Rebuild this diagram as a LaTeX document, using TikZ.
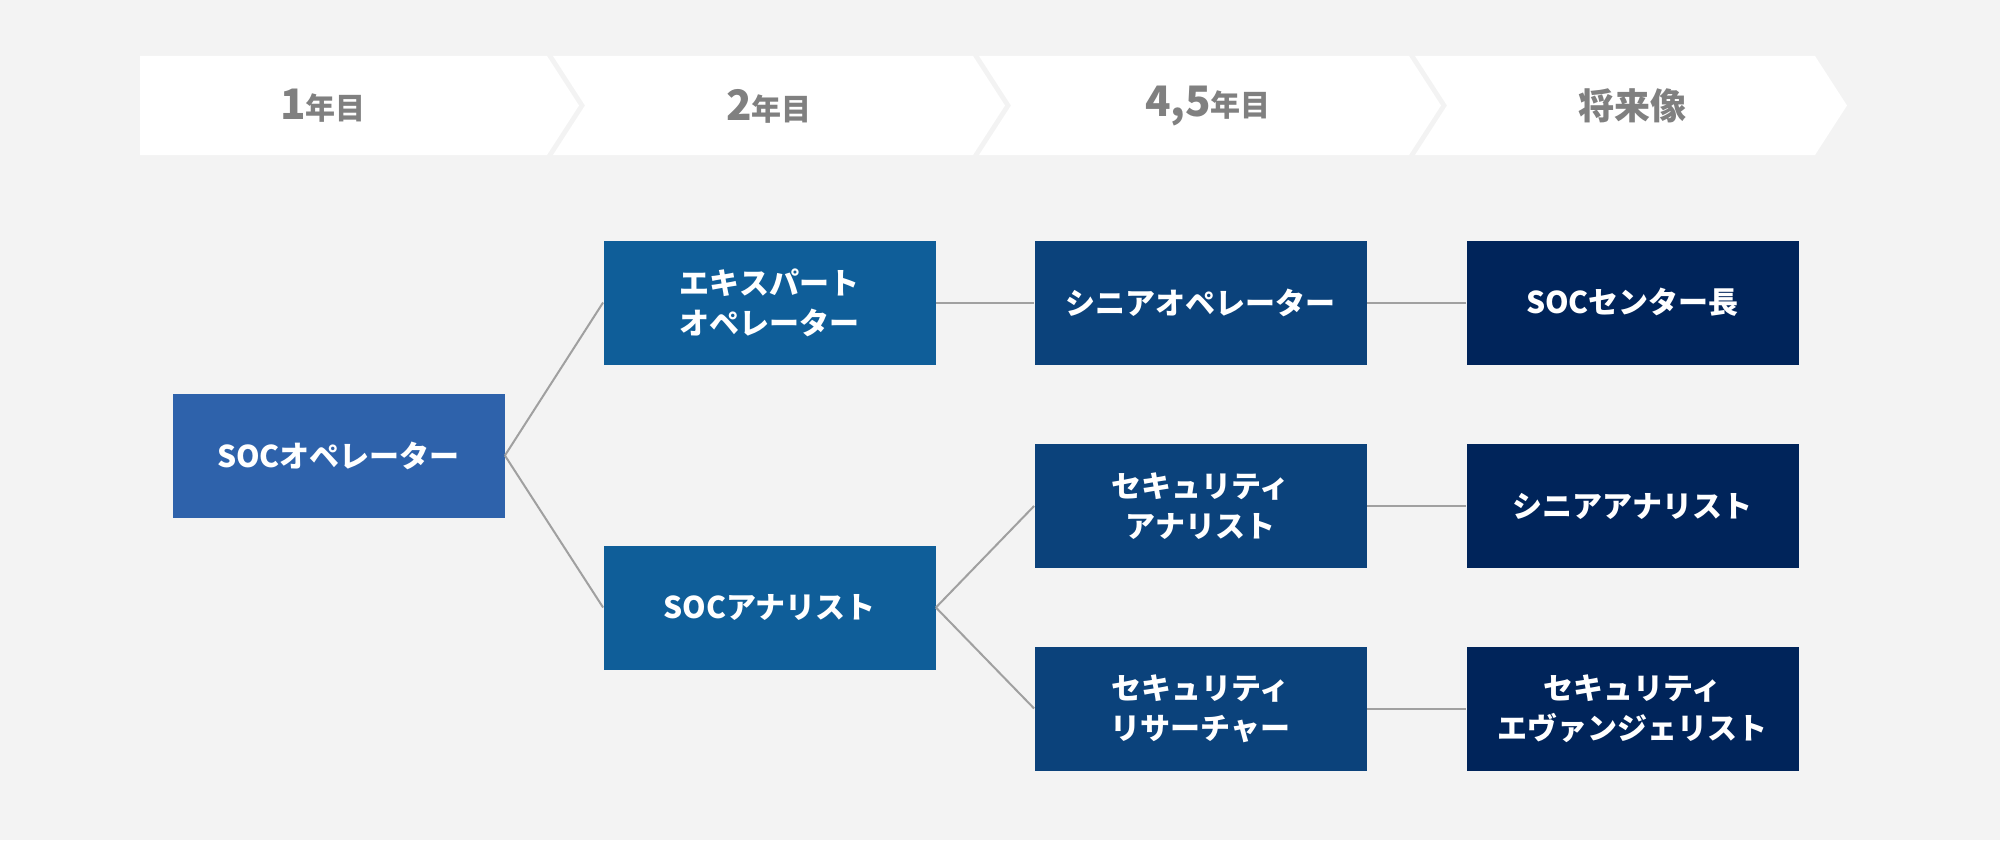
\documentclass[tikz,border=0pt]{standalone}
\usepackage{fontspec}
\newfontfamily\jp{Noto Sans CJK JP}
\definecolor{bg}{RGB}{243,243,243}
\definecolor{hdtext}{RGB}{128,128,128}
\definecolor{linegray}{RGB}{160,160,160}
\definecolor{colA}{RGB}{46,98,171}
\definecolor{colB}{RGB}{15,94,153}
\definecolor{colC}{RGB}{11,66,123}
\definecolor{colD}{RGB}{0,36,90}
\begin{document}
\begin{tikzpicture}[x=0.5pt,y=-0.5pt,
  box/.style={rectangle, minimum width=166pt, minimum height=62pt, inner sep=0pt,
    text=white, font=\jp\bfseries\fontsize{15pt}{20pt}\selectfont, align=center},
  chev/.style={fill=white, draw=none},
  hd/.style={inner sep=0pt, text=hdtext, font=\jp\bfseries},
  link/.style={draw=linegray, line width=1pt}]
\fill[bg] (0,0) rectangle (2000,840);
\useasboundingbox (0,0) rectangle (2000,840);
% header chevrons
\fill[chev] (140,56) -- (547,56) -- (579,105.5) -- (547,155) -- (140,155) -- cycle;
\fill[chev] (553,56) -- (973,56) -- (1005,105.5) -- (973,155) -- (553,155) -- (585,105.5) -- cycle;
\fill[chev] (979,56) -- (1409,56) -- (1441,105.5) -- (1409,155) -- (979,155) -- (1011,105.5) -- cycle;
\fill[chev] (1415,56) -- (1815,56) -- (1847,105.5) -- (1815,155) -- (1415,155) -- (1447,105.5) -- cycle;
\node[hd] (h1) at (323,106) {{\fontsize{21pt}{21pt}\selectfont 1}{\fontsize{15pt}{15pt}\selectfont 年目}};
\node[hd] (h2) at (769,106) {{\fontsize{21pt}{21pt}\selectfont 2}{\fontsize{15pt}{15pt}\selectfont 年目}};
\node[hd] (h3) at (1208,106) {{\fontsize{21pt}{21pt}\selectfont 4,5}{\fontsize{15pt}{15pt}\selectfont 年目}};
\node[hd] (h4) at (1632,106) {{\fontsize{18pt}{18pt}\selectfont 将来像}};
% boxes
\node[box, fill=colA] (socop) at (338.5,455.5) {SOCオペレーター};
\node[box, fill=colB] (expop) at (769.5,302.5) {エキスパート\\オペレーター};
\node[box, fill=colB] (socan) at (769.5,607.5) {SOCアナリスト};
\node[box, fill=colC] (senop) at (1200.5,302.5) {シニアオペレーター};
\node[box, fill=colC] (secan) at (1200.5,506) {セキュリティ\\アナリスト};
\node[box, fill=colC] (secre) at (1200.5,708.5) {セキュリティ\\リサーチャー};
\node[box, fill=colD] (socch) at (1632.5,302.5) {SOCセンター長};
\node[box, fill=colD] (senan) at (1632.5,506) {シニアアナリスト};
\node[box, fill=colD] (secev) at (1632.5,708.5) {セキュリティ\\エヴァンジェリスト};
% connectors
\draw[link] (socop.east) -- (expop.west);
\draw[link] (socop.east) -- (socan.west);
\draw[link] (socan.east) -- (secan.west);
\draw[link] (socan.east) -- (secre.west);
\draw[link] (expop.east) -- (senop.west);
\draw[link] (senop.east) -- (socch.west);
\draw[link] (secan.east) -- (senan.west);
\draw[link] (secre.east) -- (secev.west);
\end{tikzpicture}
\end{document}
